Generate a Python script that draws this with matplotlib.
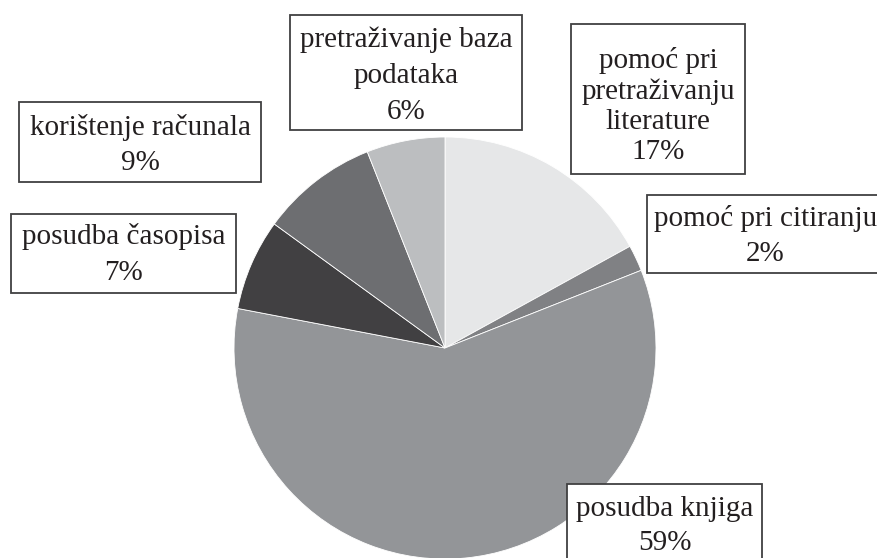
import matplotlib
matplotlib.use("Agg")
import matplotlib.pyplot as plt
from matplotlib.patches import Rectangle

W, H = 877, 558

# data, clockwise from 12 o'clock
categories = ["pomoć pri\npretraživanju\nliterature", "pomoć pri citiranju", "posudba knjiga",
              "posudba časopisa", "korištenje računala", "pretraživanje baza\npodataka"]
percent = [17, 2, 59, 7, 9, 6]
colors = ["#e6e7e8", "#808184", "#939598", "#414042", "#6d6e71", "#bcbec0"]

# label boxes in pixels (left, top, right, bottom), same order as data
boxes = [(571, 24, 745, 174), (647, 195, 884, 273), (567, 484, 762, 568),
         (11, 214, 236, 293), (19, 102, 261, 182), (290, 15, 522, 130)]
spacing = [1.2, 1.45, 1.4, 1.45, 1.45, 1.5]
shift = [7, 2, 0, 1, 3, 3]

plt.rcParams['font.family'] = ['Liberation Serif', 'DejaVu Serif']

fig = plt.figure(figsize=(W / 100, H / 100), dpi=100)
cx, cy, r = 445, 348, 211
ax = fig.add_axes([(cx - r) / W, 1 - (cy + r) / H, 2 * r / W, 2 * r / H])
ax.pie(percent, colors=colors, startangle=90, counterclock=False, radius=1,
       wedgeprops=dict(edgecolor="white", linewidth=0.6))
ax.set_xlim(-1, 1)
ax.set_ylim(-1, 1)
ax.axis("off")

for name, pct, (x0, y0, x1, y1), ls, dy in zip(categories, percent, boxes, spacing, shift):
    rect = Rectangle((x0 / W, 1 - y1 / H), (x1 - x0) / W, (y1 - y0) / H,
                     transform=fig.transFigure, facecolor="white",
                     edgecolor="#404041", linewidth=1.3, zorder=2)
    fig.add_artist(rect)
    fig.text((x0 + x1) / 2 / W, 1 - ((y0 + y1) / 2 + dy) / H, f"{name}\n{pct}%",
             ha="center", va="center", multialignment="center",
             fontsize=21, linespacing=ls, color="#231f20", zorder=3)

fig.savefig("out.png", dpi=100)
